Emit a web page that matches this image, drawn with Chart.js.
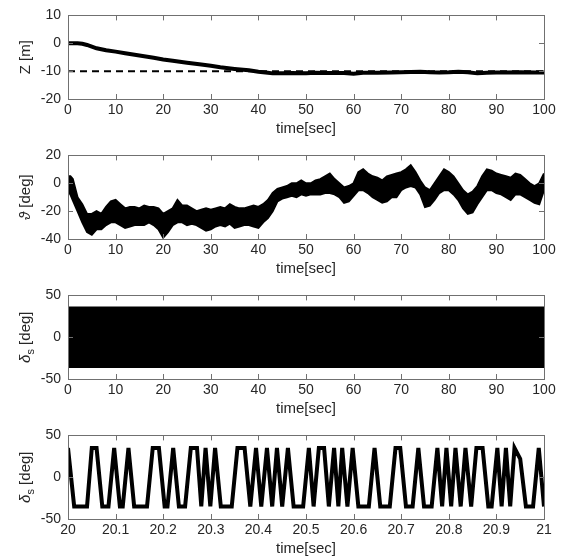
<!DOCTYPE html>
<html>
<head>
<meta charset="utf-8">
<script src="https://cdn.jsdelivr.net/npm/chart.js@4"></script>
<style>
  html, body { margin: 0; padding: 0; background: #fff; }
  #wrap { position: relative; width: 566px; height: 557px; }
  .panel { position: absolute; left: 0; width: 566px; }
</style>
</head>
<body>
<div id="wrap">
  <div class="panel" style="top:0;height:140px"><canvas id="depthChart"></canvas></div>
  <div class="panel" style="top:140px;height:140px"><canvas id="pitchChart"></canvas></div>
  <div class="panel" style="top:280px;height:140px"><canvas id="sternChart"></canvas></div>
  <div class="panel" style="top:420px;height:137px"><canvas id="sternZoomChart"></canvas></div>
</div>
<script>
// Depth Z [m] over 100 s
const depthTime = [0, 1, 2, 3, 4, 5, 6, 8, 10, 12, 15, 18, 20, 22, 25, 28, 30, 32, 35, 38, 40, 42, 43, 45, 47, 50, 52, 55, 58, 60, 62, 65, 68, 70, 72, 74, 76, 78, 80, 82, 84, 86, 88, 90, 92, 95, 98, 100];
const depthValue = [0, 0, 0, -0.2, -0.6, -1.2, -1.8, -2.5, -3.0, -3.6, -4.4, -5.2, -5.8, -6.3, -7.0, -7.6, -8.1, -8.6, -9.2, -9.7, -10.2, -10.6, -10.8, -10.8, -10.7, -10.8, -10.6, -10.7, -10.7, -10.9, -10.6, -10.6, -10.5, -10.4, -10.3, -10.2, -10.4, -10.5, -10.4, -10.2, -10.4, -10.8, -10.6, -10.5, -10.5, -10.4, -10.5, -10.5];
const depthRefTime = [0, 100];
const depthRefValue = [-10, -10];

// Pitch angle band (upper / lower envelope of the noisy trace), deg
const pitchTime = [0, 0.5, 1, 2, 3, 4, 5, 6, 7, 8, 9, 10, 11, 12, 13, 14, 15, 16, 17, 18, 19, 20, 21, 22, 23, 24, 25, 26, 27, 28, 29, 30, 31, 32, 33, 34, 35, 36, 37, 38, 39, 40, 41, 42, 43, 44, 45, 46, 47, 48, 49, 50, 51, 52, 53, 54, 55, 56, 57, 58, 59, 60, 61, 62, 63, 64, 65, 66, 67, 68, 69, 70, 71, 72, 73, 74, 75, 76, 77, 78, 79, 80, 81, 82, 83, 84, 85, 86, 87, 88, 89, 90, 91, 92, 93, 94, 95, 96, 97, 98, 99, 100];
const pitchUpper = [5, 5, 3, -10, -15, -22, -22, -20, -22, -17, -13, -12, -15, -18, -17, -17, -18, -16, -17, -17, -18, -22, -20, -18, -12, -16, -16, -18, -20, -19, -18, -19, -18, -17, -18, -15, -17, -18, -18, -17, -16, -17, -15, -12, -7, -4, -3, -2, 0, 0, 2, 0, 0, 2, 3, 5, 7, 3, 0, -3, -2, 0, 8, 10, 7, 5, 4, 2, 5, 6, 7, 8, 10, 13, 8, 2, -3, -5, 0, 5, 10, 8, 5, 0, -5, -8, -6, -2, 5, 10, 9, 7, 6, 5, 4, 7, 6, 3, 0, -2, 0, 7];
const pitchLower = [-5, -8, -12, -20, -28, -35, -37, -33, -33, -30, -28, -28, -30, -32, -31, -30, -30, -30, -28, -30, -33, -39, -35, -30, -28, -28, -30, -29, -30, -32, -34, -33, -31, -30, -31, -29, -32, -31, -30, -30, -31, -32, -28, -25, -20, -13, -11, -10, -9, -10, -8, -9, -8, -8, -8, -7, -7, -8, -10, -14, -13, -9, -5, -5, -7, -10, -12, -14, -13, -10, -10, -5, -3, -2, -3, -8, -17, -16, -12, -7, -5, -5, -8, -12, -18, -22, -21, -15, -10, -5, -5, -7, -8, -10, -12, -8, -8, -10, -12, -14, -15, -5];

// Stern plane deflection, full run (switches too fast to resolve: saturated band)
const sternTime = [0, 100];
const sternUpper = [35, 35];
const sternLower = [-35, -35];

// Stern plane deflection, detail 20 s .. 21 s
const zoomTime = [20.000, 20.013, 20.040, 20.050, 20.060, 20.072, 20.085, 20.097, 20.109, 20.115, 20.127, 20.139, 20.166, 20.178, 20.191, 20.203, 20.209, 20.221, 20.233, 20.246, 20.258, 20.271, 20.280, 20.289, 20.299, 20.309, 20.321, 20.344, 20.356, 20.371, 20.383, 20.395, 20.406, 20.418, 20.429, 20.439, 20.450, 20.462, 20.474, 20.494, 20.506, 20.516, 20.527, 20.538, 20.548, 20.559, 20.568, 20.576, 20.587, 20.598, 20.610, 20.632, 20.644, 20.656, 20.676, 20.688, 20.698, 20.710, 20.724, 20.736, 20.748, 20.764, 20.776, 20.786, 20.795, 20.805, 20.814, 20.825, 20.835, 20.847, 20.858, 20.871, 20.883, 20.890, 20.902, 20.911, 20.920, 20.929, 20.938, 20.950, 20.962, 20.977, 20.989, 21.000];
const zoomDelta = [35, -35, -35, 35, 35, -35, -35, 35, -35, -35, 35, -35, -35, 35, 35, -35, -35, 35, -35, -35, 35, 35, -35, 35, -35, 35, -35, -35, 35, 35, -35, 35, -35, 35, -35, 35, -35, 35, -35, -35, 35, -35, 35, 35, -35, 35, -35, 35, -35, 35, -35, -35, 35, -35, -35, 35, 35, -35, -35, 35, -35, -35, 35, -35, 35, -35, 35, -35, 35, -35, 35, 35, -35, -35, 35, -35, 35, -35, 35, 22, -35, -35, 35, -35];

// Tick labels
const timeTicks = [0, 10, 20, 30, 40, 50, 60, 70, 80, 90, 100];
const zoomTimeTicks = [20, 20.1, 20.2, 20.3, 20.4, 20.5, 20.6, 20.7, 20.8, 20.9, 21];
const depthTicks = [-20, -10, 0, 10];
const pitchTicks = [-40, -20, 0, 20];
const sternTicks = [-50, 0, 50];

const FONT = '"Liberation Sans", Arial, sans-serif';
const TEXT_COLOR = '#262626';

function toPoints(xs, ys) {
    return xs.map((x, i) => ({ x: x, y: ys[i] }));
}

// Draws the MATLAB-like box, inward tick marks and the axis titles
const framePlugin = {
    id: 'frame',
    afterDraw(chart, args, opts) {
        const { ctx, chartArea: a, scales } = chart;
        ctx.save();
        ctx.strokeStyle = '#707070';
        ctx.lineWidth = 1;
        ctx.strokeRect(Math.round(a.left) + 0.5, Math.round(a.top) + 0.5, Math.round(a.width), Math.round(a.height));

        const len = 5;
        ctx.beginPath();
        scales.x.ticks.forEach(t => {
            const px = Math.round(scales.x.getPixelForValue(t.value)) + 0.5;
            ctx.moveTo(px, a.bottom);
            ctx.lineTo(px, a.bottom - len);
            ctx.moveTo(px, a.top);
            ctx.lineTo(px, a.top + len);
        });
        scales.y.ticks.forEach(t => {
            const py = Math.round(scales.y.getPixelForValue(t.value)) + 0.5;
            ctx.moveTo(a.left, py);
            ctx.lineTo(a.left + len, py);
            ctx.moveTo(a.right, py);
            ctx.lineTo(a.right - len, py);
        });
        ctx.stroke();

        // x axis title
        ctx.fillStyle = TEXT_COLOR;
        ctx.font = '15px ' + FONT;
        ctx.textAlign = 'center';
        ctx.textBaseline = 'middle';
        ctx.fillText('time[sec]', (a.left + a.right) / 2, a.bottom + 30);

        // y axis title, rotated
        ctx.translate(25, (a.top + a.bottom) / 2);
        ctx.rotate(-Math.PI / 2);
        ctx.textBaseline = 'alphabetic';
        const parts = opts.yLabel;
        let total = 0;
        parts.forEach(p => {
            ctx.font = p.font;
            total += ctx.measureText(p.text).width;
        });
        let x = -total / 2;
        ctx.textAlign = 'left';
        parts.forEach(p => {
            ctx.font = p.font;
            ctx.fillText(p.text, x, 5 + (p.dy || 0));
            x += ctx.measureText(p.text).width;
        });
        ctx.restore();
    }
};

function makePlot(id, cfg) {
    const canvas = document.getElementById(id);
    const panelHeight = canvas.parentNode.clientHeight;
    return new Chart(canvas, {
        type: 'line',
        data: { datasets: cfg.datasets },
        options: {
            responsive: true,
            maintainAspectRatio: false,
            animation: false,
            events: [],
            layout: { padding: { top: 10, right: 22, left: 0, bottom: 0 } },
            elements: {
                point: { radius: 0 },
                line: { tension: 0 }
            },
            plugins: {
                legend: { display: false },
                tooltip: { enabled: false },
                frame: { yLabel: cfg.yLabel }
            },
            scales: {
                x: {
                    type: 'linear',
                    min: cfg.xMin,
                    max: cfg.xMax,
                    grid: { display: false, drawTicks: false },
                    border: { display: false },
                    ticks: {
                        color: TEXT_COLOR,
                        font: { family: FONT, size: 14 },
                        padding: 3,
                        autoSkip: false,
                        maxRotation: 0,
                        callback: v => String(Number(v.toFixed(1)))
                    },
                    afterBuildTicks: s => { s.ticks = cfg.xTicks.map(v => ({ value: v })); },
                    afterFit: s => { s.height = panelHeight - 10 - 89; }
                },
                y: {
                    type: 'linear',
                    min: cfg.yMin,
                    max: cfg.yMax,
                    grid: { display: false, drawTicks: false },
                    border: { display: false },
                    ticks: {
                        color: TEXT_COLOR,
                        font: { family: FONT, size: 14 },
                        padding: 7,
                        callback: v => String(v)
                    },
                    afterBuildTicks: s => { s.ticks = cfg.yTicks.map(v => ({ value: v })); },
                    afterFit: s => { s.width = 68; }
                }
            }
        },
        plugins: [framePlugin]
    });
}

const labelFont = '15px ' + FONT;
const greekFont = 'italic 15px ' + FONT;
const subFont = '11px ' + FONT;

makePlot('depthChart', {
    xMin: 0, xMax: 100, yMin: -20, yMax: 10,
    xTicks: timeTicks, yTicks: depthTicks,
    yLabel: [{ text: 'Z [m]', font: labelFont }],
    datasets: [
        {
            data: toPoints(depthRefTime, depthRefValue),
            borderColor: '#000',
            borderWidth: 2,
            borderDash: [7, 5]
        },
        {
            data: toPoints(depthTime, depthValue),
            borderColor: '#000',
            borderWidth: 4
        }
    ]
});

makePlot('pitchChart', {
    xMin: 0, xMax: 100, yMin: -40, yMax: 20,
    xTicks: timeTicks, yTicks: pitchTicks,
    yLabel: [{ text: 'ϑ', font: greekFont }, { text: ' [deg]', font: labelFont }],
    datasets: [
        {
            data: toPoints(pitchTime, pitchUpper),
            borderColor: '#000',
            borderWidth: 2,
            backgroundColor: '#000',
            fill: '+1'
        },
        {
            data: toPoints(pitchTime, pitchLower),
            borderColor: '#000',
            borderWidth: 2
        }
    ]
});

const deltaLabel = [
    { text: 'δ', font: greekFont },
    { text: 's', font: subFont, dy: 4 },
    { text: ' [deg]', font: labelFont }
];

makePlot('sternChart', {
    xMin: 0, xMax: 100, yMin: -50, yMax: 50,
    xTicks: timeTicks, yTicks: sternTicks,
    yLabel: deltaLabel,
    datasets: [
        {
            data: toPoints(sternTime, sternUpper),
            borderColor: '#000',
            borderWidth: 3,
            backgroundColor: '#000',
            fill: '+1'
        },
        {
            data: toPoints(sternTime, sternLower),
            borderColor: '#000',
            borderWidth: 3
        }
    ]
});

makePlot('sternZoomChart', {
    xMin: 20, xMax: 21, yMin: -50, yMax: 50,
    xTicks: zoomTimeTicks, yTicks: sternTicks,
    yLabel: deltaLabel,
    datasets: [
        {
            data: toPoints(zoomTime, zoomDelta),
            borderColor: '#000',
            borderWidth: 4
        }
    ]
});
</script>
</body>
</html>
